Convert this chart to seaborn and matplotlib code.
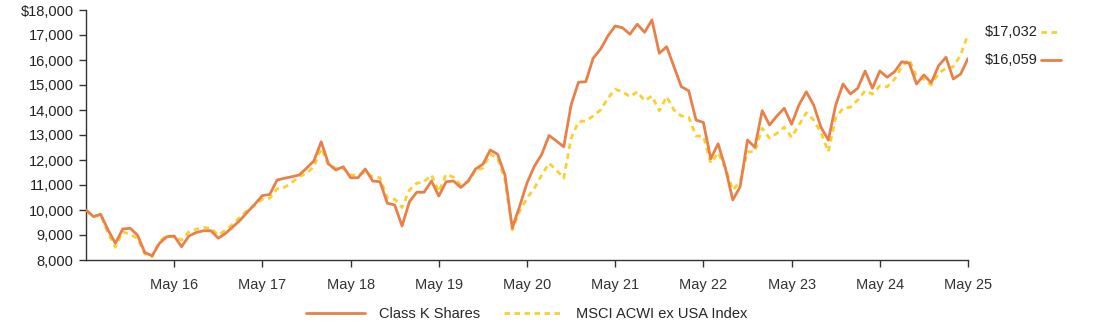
import numpy as np
import pandas as pd
import matplotlib
matplotlib.use("Agg")
import matplotlib.pyplot as plt
import matplotlib.transforms as mtransforms
import seaborn as sns

# ---------------- DATA ----------------
months = pd.date_range("2015-05-01", "2025-05-01", freq="MS")

class_k = [
    10000, 9740, 9830, 9200, 8670, 9240, 9270, 9000, 8300, 8170,
    8670, 8930, 8960, 8530, 8960, 9100, 9170, 9170, 8870, 9070,
    9330, 9600, 9930, 10240, 10580, 10620, 11200, 11270, 11330, 11400,
    11670, 11960, 12730, 11840, 11600, 11730, 11290, 11290, 11640, 11160,
    11130, 10270, 10200, 9360, 10330, 10710, 10710, 11160, 10560, 11130,
    11160, 10900, 11160, 11640, 11830, 12400, 12230, 11400, 9280, 10150,
    11080, 11750, 12220, 12980, 12760, 12530, 14200, 15110, 15130, 16070,
    16430, 16960, 17360, 17290, 17030, 17430, 17110, 17600, 16270, 16530,
    15730, 14930, 14770, 13600, 13500, 12050, 12650, 11670, 10400, 10930,
    12800, 12510, 13970, 13400, 13760, 14070, 13430, 14200, 14730, 14200,
    13310, 12800, 14200, 15040, 14640, 14870, 15560, 14870, 15560, 15310,
    15530, 15930, 15870, 15040, 15400, 15090, 15770, 16110, 15240, 15440,
    16059,
]

msci = [
    10000, 9730, 9800, 9070, 8510, 9130, 9020, 8870, 8240, 8130,
    8730, 9000, 8900, 8800, 9130, 9230, 9300, 9270, 9000, 9200,
    9440, 9730, 10000, 10200, 10430, 10470, 10850, 10900, 11100, 11330,
    11470, 11730, 12470, 11800, 11670, 11670, 11400, 11400, 11530, 11330,
    11290, 10470, 10430, 10100, 10800, 11070, 11130, 11400, 10730, 11430,
    11310, 11000, 11130, 11600, 11670, 12240, 12070, 11200, 9200, 9950,
    10470, 10870, 11400, 11870, 11600, 11270, 12870, 13530, 13560, 13760,
    14000, 14470, 14830, 14730, 14530, 14730, 14370, 14560, 13970, 14530,
    14000, 13760, 13710, 12960, 12950, 11880, 12290, 11670, 10800, 11130,
    12330, 12330, 13270, 12870, 13070, 13310, 12910, 13400, 13890, 13600,
    13090, 12330, 13690, 14070, 14110, 14400, 14770, 14640, 14960, 14930,
    15230, 15730, 16030, 15330, 15230, 15000, 15470, 15670, 15730, 16200,
    17032,
]

series_names = ["Class K Shares", "MSCI ACWI ex USA Index"]
tick_labels = ["May 16", "May 17", "May 18", "May 19", "May 20",
               "May 21", "May 22", "May 23", "May 24", "May 25"]
y_ticks = [8000, 9000, 10000, 11000, 12000, 13000, 14000, 15000, 16000, 17000, 18000]

# ---------------- FRAME ----------------
idx = np.arange(len(months))
df = pd.DataFrame({
    "m": np.concatenate([idx, idx]),
    "value": class_k + msci,
    "series": [series_names[0]] * len(idx) + [series_names[1]] * len(idx),
})

sns.set_theme(style="white")
plt.rcParams["font.family"] = ["Liberation Sans", "DejaVu Sans"]

ORANGE = "#E8804A"
YELLOW = "#F9D030"
palette = {series_names[0]: ORANGE, series_names[1]: YELLOW}

fig = plt.figure(figsize=(10.94, 3.27), dpi=100)
ax = fig.add_axes([86 / 1094, 1 - 260 / 327, (968 - 86) / 1094, (260 - 10) / 327])

sns.lineplot(data=df, x="m", y="value", hue="series", palette=palette,
             hue_order=series_names, ax=ax, legend=False, linewidth=2.0)
lines = ax.get_lines()
lines[1].set_dashes([2.0, 1.6])
lines[1].set_zorder(2)
lines[0].set_zorder(3)

ax.set_xlim(0, len(idx) - 1)
ax.set_ylim(8000, 18000)
ax.set_yticks(y_ticks)
ax.set_yticklabels([("$" if v == 18000 else "") + f"{v:,}" for v in y_ticks])
ax.set_xticks(idx[12::12])
ax.set_xticklabels(tick_labels)
ax.set_xlabel("")
ax.set_ylabel("")

for s in ["top", "right"]:
    ax.spines[s].set_visible(False)
for s in ["left", "bottom"]:
    ax.spines[s].set_color("#333333")
    ax.spines[s].set_linewidth(1.0)
ax.tick_params(axis="both", which="both", direction="out", length=5, width=1,
               color="#333333", labelsize=10.5, labelcolor="#222222", pad=4,
               left=True, bottom=True)
ax.tick_params(axis="x", pad=8, labelcolor="#333333")

# end labels (nudged apart slightly, as in the reference)
trans = mtransforms.blended_transform_factory(ax.transAxes, ax.transData)
ends = [(msci[-1], YELLOW, True, 2), (class_k[-1], ORANGE, False, -1.5)]
for val, col, dashed, dy in ends:
    off = mtransforms.offset_copy(trans, fig=fig, x=0, y=dy, units="dots")
    ax.text(1.019, val, f"${val:,}", transform=off, ha="left", va="center",
            fontsize=10.5, color="#222222", clip_on=False)
    ln, = ax.plot([1.083, 1.106], [val, val], transform=off, color=col,
                  linewidth=2.0, clip_on=False)
    if dashed:
        ln.set_dashes([2.0, 1.6])

# legend
from matplotlib.lines import Line2D
handles = [Line2D([0], [0], color=ORANGE, linewidth=2.0),
           Line2D([0], [0], color=YELLOW, linewidth=2.0, dashes=[2.0, 1.6])]
fig.legend(handles, series_names, loc="center", bbox_to_anchor=(527 / 1094, 1 - 314 / 327),
           ncol=2, frameon=False, fontsize=10.5, handlelength=4.0, columnspacing=1.6,
           handletextpad=1.0)

fig.savefig("out.png", dpi=100)
